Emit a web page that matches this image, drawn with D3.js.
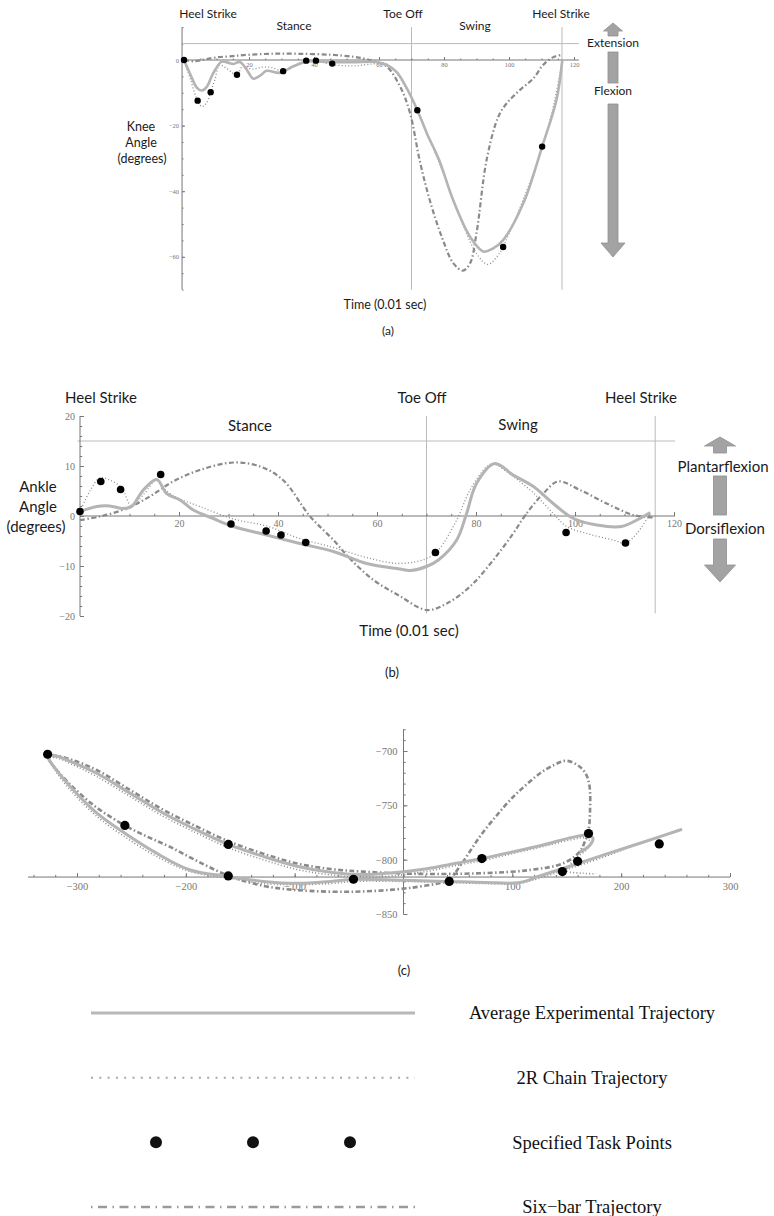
<!DOCTYPE html>
<html>
<head>
<meta charset="utf-8">
<script src="https://cdn.jsdelivr.net/npm/d3@7"></script>
<style>
body { margin: 0; background: #fff; }
svg { display: block; }
.lbl { font-family: Lato, "Open Sans", sans-serif; fill: #1a1a1a; }
.leg { font-family: "Liberation Serif", "DejaVu Serif", serif; fill: #111; }
.tick text { font-family: "Liberation Serif", "DejaVu Serif", serif; fill: #777; }
.tick line { stroke: #777; }
</style>
</head>
<body>
<svg id="fig" width="774" height="1216"></svg>
<script>
// time of the specified task points (0.01 sec)
var taskT = [0, 4.2, 8.2, 16.3, 30.5, 37.6, 40.6, 45.6, 71.8, 98.2, 110.2];

// (a) knee angle
var kneeTask = [0, -12.4, -9.8, -4.5, -3.4, -0.2, -0.2, -1.1, -15.3, -57.0, -26.4];
var kneeExpT = [0, 2, 4, 5.5, 7, 9, 11.6, 13.5, 15.2, 17.2, 19.2, 21.3, 23.4, 25.4, 29.5, 33.5, 37.7, 45, 52, 59.3, 62.5, 65.4, 68.5, 71.8, 74.7, 78.5, 82.8, 88, 92.1, 95, 98.2, 104.4, 110.2, 114.6, 116.4];
var kneeExpV = [0, -4.5, -8.5, -9.3, -8.2, -4, -0.5, -0.8, -1.2, -0.6, -2.8, -5.7, -4.8, -3.3, -3.9, -2, -0.5, -0.6, -0.7, -0.6, -1.6, -3.6, -8.5, -15.3, -22.3, -30.5, -42.7, -53.9, -58.4, -57.5, -54.9, -43.7, -26.4, -12.2, 0];
var kneeTwoRT = [0, 2, 4, 5.5, 7, 8.2, 9.5, 11, 13, 16.3, 18, 21, 24, 27, 30.5, 34, 37.6, 40.6, 45.6, 52, 58, 62, 65, 68, 71.8, 75, 80, 85, 90, 93.5, 97, 100, 105, 110.2, 114, 116.4];
var kneeTwoRV = [0, -6, -12, -14.2, -13, -9.8, -6, -1.5, -2.5, -4.5, -2, -2.8, -2.2, -2.3, -3.4, -2, -0.3, -0.3, -1.4, -1.8, -1.2, -1.0, -3.5, -8, -15.3, -23, -35, -48, -59, -62.3, -59, -53, -41, -27, -12.5, 0];
var kneeSixT = [0, 3, 6, 10, 15, 20, 27, 35, 45, 52, 56, 59.3, 62.4, 66.5, 69.5, 72.6, 75.7, 79.3, 82.9, 85.8, 88, 90, 93.1, 96.7, 99.3, 103.4, 107.5, 110.5, 113.5, 116.4];
var kneeSixV = [0, -0.4, 0.1, 0.8, 1.2, 1.6, 1.9, 1.9, 1.6, 1.0, 0.3, -0.6, -2, -8.1, -16, -31, -43, -53.9, -62, -64.2, -62, -52.8, -30.5, -17.3, -13.2, -9.1, -5.6, -1.5, 0.8, 1.6];

// (b) ankle angle
var ankleTask = [0.9, 6.9, 5.3, 8.3, -1.6, -3.0, -3.8, -5.3, -7.3, -3.3, -5.4];
var ankleExpT = [0, 3.4, 6, 8.7, 10.4, 12.8, 15.5, 17.5, 20.2, 22.9, 26.9, 31, 37.7, 44.4, 51.2, 57.9, 64.6, 66.7, 70, 72.4, 76.1, 78.1, 80.1, 83.8, 87.5, 91.6, 95.6, 99.7, 104.4, 109.4, 112.5, 115.2];
var ankleExpV = [0.9, 1.9, 2, 1.5, 1.9, 5.2, 7.3, 4.5, 3.2, 1.2, -0.5, -2.1, -3.8, -5.5, -7.1, -9.5, -10.6, -10.9, -10.1, -8.8, -4.8, 0.5, 6.5, 10.5, 8.2, 5.9, 2.5, -0.5, -1.8, -2.1, -0.8, 0.7];
var ankleTwoRT = [0, 2, 4, 6, 8.5, 10.4, 13, 15.5, 17.5, 20, 24.2, 31, 37.7, 44.4, 51.2, 57.9, 64.6, 70, 72.4, 76.1, 78.8, 82.2, 83.5, 87.5, 91.6, 95.6, 98.3, 102.4, 107.7, 110.2, 112.5, 115.2];
var ankleTwoRV = [0.9, 5, 7.6, 7.2, 5.5, 2, 4.5, 7.2, 5, 3.5, 1.9, -0.6, -2, -4.5, -6.3, -8.3, -9.5, -8.5, -6.8, -0.8, 5.2, 9.9, 10.4, 7.9, 4.6, 0.5, -2.1, -3.5, -4.8, -5.4, -3.5, 0.5];
var ankleSixT = [0, 4, 9.4, 14.1, 18.8, 24.2, 31, 36.4, 41, 46.5, 51.2, 54.5, 59.3, 64.6, 70, 74.1, 78.8, 83.5, 87.5, 90.2, 93.6, 96.6, 101, 106.4, 111.8, 115.8];
var ankleSixV = [-0.8, -0.1, 1.5, 3.9, 6.9, 9.2, 10.7, 9.9, 7.2, -0.1, -4.8, -8.5, -12.8, -16, -18.8, -17.5, -14.1, -8.8, -3.5, 0.5, 4.5, 6.9, 5.2, 2.5, 0.2, -0.3];

// (c) ankle path
var pathTaskX = [-327, -256, -161, -161, -46, 42, 72, 146, 160, 170, 235];
var pathTaskY = [-703, -768.5, -786, -815, -818, -820, -799, -811, -801.5, -776, -785.5];
var pathExpX = [256, 220, 180, 150, 125, 107, 75, 40, 0, -46, -67, -98, -129, -160, -196, -227, -256, -282, -306, -320, -327, -322, -305, -282, -251, -221, -190, -161, -129, -98, -67, -37, -10, 20, 50, 72, 100, 130, 155, 168, 174, 171, 162];
var pathExpY = [-772, -784, -797, -807, -815, -821, -821, -820, -819, -818, -820, -821.7, -820, -815.6, -809.5, -794, -775.7, -757, -733, -716, -705, -704, -710, -720.5, -739, -757, -772.7, -786, -797, -806, -811.6, -813.7, -812, -808.5, -803, -799, -793, -786, -779.5, -777.5, -780, -787, -793];
var pathTwoRX = [250, 215, 180, 150, 125, 105, 75, 40, 0, -46, -67, -98, -129, -160, -196, -227, -256, -282, -306, -320, -326, -320, -303, -282, -251, -221, -190, -161, -129, -98, -67, -37, -10, 20, 50, 72, 100, 130, 155, 167, 172, 168, 158, 150, 165, 177];
var pathTwoRY = [-774, -786, -799, -809, -817, -822, -822, -821, -820, -820, -822, -823, -822, -817, -811, -797, -779, -760, -736, -718, -707, -706, -713, -723.5, -742, -760, -775.5, -789, -800, -809, -814, -816, -815, -811, -805, -801, -794.5, -787.5, -781.5, -780, -784, -791, -799, -810, -812.5, -813];
var pathSixX = [42, 56, 70, 85, 101, 114, 125.5, 138, 150, 162, 168, 171, 171.4, 170, 166, 162, 147, 116, 70, 9, -37, -67, -98, -129, -161, -190, -221, -251, -282, -305, -320, -326, -323, -306, -282, -256, -235, -215, -190, -161, -129, -98, -46, 6, 42];
var pathSixY = [-820, -800, -779, -760, -742, -730, -720.5, -713, -709, -714.5, -722, -733, -754.6, -773, -785, -792.6, -803.3, -809.5, -812.5, -813, -811, -808.6, -803.5, -794.5, -783, -769.5, -754, -736, -717.5, -708, -704.5, -706, -712, -731, -752, -768.5, -779, -788, -801, -814.7, -824, -828, -829.5, -826, -820];

var legendLabels = ["Average Experimental Trajectory", "2R Chain Trajectory", "Specified Task Points", "Six\u2212bar Trajectory"];

var svg = d3.select("#fig");

var styles = {
  exp: {stroke: "#b4b4b4", width: 3, dash: null},
  twoR: {stroke: "#8c8c8c", width: 1.3, dash: "1,2.2"},
  six: {stroke: "#8a8a8a", width: 2.2, dash: "5,2.5,1.5,2.5"}
};

create_panel_a();
create_panel_b();
create_panel_c();
create_legend();

function add_label(g, x, y, txt, size) {
  g.append("text")
    .attr("class", "lbl")
    .attr("x", x)
    .attr("y", y)
    .attr("dy", "0.35em")
    .attr("text-anchor", "middle")
    .style("font-size", size + "px")
    .text(txt);
}

function draw_series(g, pts, x, y, st) {
  var line = d3.line()
    .x(d => x(d[0]))
    .y(d => y(d[1]))
    .curve(d3.curveCatmullRom.alpha(0.5));
  g.append("path")
    .datum(pts)
    .attr("fill", "none")
    .attr("stroke", st.stroke)
    .attr("stroke-width", st.width)
    .attr("stroke-dasharray", st.dash)
    .attr("stroke-linejoin", "round")
    .attr("d", line);
}

function draw_dots(g, pts, x, y, r) {
  g.selectAll("circle.task")
    .data(pts)
    .join("circle")
      .attr("class", "task")
      .attr("cx", d => x(d[0]))
      .attr("cy", d => y(d[1]))
      .attr("r", r)
      .attr("fill", "#000");
}

function draw_axes(g, x, y, o) {
  // minor ticks first, then major with labels
  g.append("g")
    .attr("transform", "translate(0," + y(o.xAt) + ")")
    .call(d3.axisBottom(x).tickValues(o.xMinor).tickSizeInner(-o.minor).tickSizeOuter(0).tickFormat(""))
    .call(a => a.select(".domain").remove());
  g.append("g")
    .attr("transform", "translate(0," + y(o.xAt) + ")")
    .call(d3.axisBottom(x).tickValues(o.xMajor).tickSizeInner(-o.major).tickSizeOuter(0).tickPadding(o.pad))
    .call(a => a.select(".domain").remove())
    .call(a => a.selectAll("text").style("font-size", o.font + "px"));
  g.append("g")
    .attr("transform", "translate(" + x(o.yAt) + ",0)")
    .call(d3.axisLeft(y).tickValues(o.yMinor).tickSizeInner(-o.minor).tickSizeOuter(0).tickFormat(""))
    .call(a => a.select(".domain").remove());
  g.append("g")
    .attr("transform", "translate(" + x(o.yAt) + ",0)")
    .call(d3.axisLeft(y).tickValues(o.yMajor).tickSizeInner(-o.major).tickSizeOuter(0).tickPadding(o.pad + 1))
    .call(a => a.select(".domain").remove())
    .call(a => a.selectAll("text").style("font-size", o.font + "px"));

  g.append("line")
    .attr("x1", x(o.xExt[0])).attr("x2", x(o.xExt[1]))
    .attr("y1", y(o.xAt)).attr("y2", y(o.xAt))
    .attr("stroke", "#777");
  g.append("line")
    .attr("x1", x(o.yAt)).attr("x2", x(o.yAt))
    .attr("y1", y(o.yExt[0])).attr("y2", y(o.yExt[1]))
    .attr("stroke", "#777");
}

function draw_arrows(g, cx, a) {
  var f = "#a3a3a3", s = "#8f8f8f";
  g.append("path")
    .attr("d", "M" + cx + "," + a.upTip + " L" + (cx + a.head) + "," + a.upBase + " L" + (cx + a.shaft) + "," + a.upBase +
      " L" + (cx + a.shaft) + "," + a.upEnd + " L" + (cx - a.shaft) + "," + a.upEnd + " L" + (cx - a.shaft) + "," + a.upBase +
      " L" + (cx - a.head) + "," + a.upBase + "Z")
    .attr("fill", f).attr("stroke", s).attr("stroke-width", 0.8);
  g.append("rect")
    .attr("x", cx - a.shaft).attr("y", a.bar[0])
    .attr("width", 2 * a.shaft).attr("height", a.bar[1] - a.bar[0])
    .attr("fill", f).attr("stroke", s).attr("stroke-width", 0.8);
  g.append("path")
    .attr("d", "M" + (cx - a.shaft) + "," + a.dnStart + " L" + (cx + a.shaft) + "," + a.dnStart + " L" + (cx + a.shaft) + "," + a.dnBase +
      " L" + (cx + a.head2) + "," + a.dnBase + " L" + cx + "," + a.dnTip + " L" + (cx - a.head2) + "," + a.dnBase +
      " L" + (cx - a.shaft) + "," + a.dnBase + "Z")
    .attr("fill", f).attr("stroke", s).attr("stroke-width", 0.8);
}

function create_panel_a() {
  var g = svg.append("g");
  var x = d3.scaleLinear().domain([0, 120]).range([184, 574]);
  var y = d3.scaleLinear().domain([-70, 10]).range([289.6, 27.2]);

  // phase lines
  g.append("line").attr("x1", x(0)).attr("x2", x(121.5)).attr("y1", y(5)).attr("y2", y(5)).attr("stroke", "#bbb");
  [70, 116.3].forEach(function (t) {
    g.append("line").attr("x1", x(t)).attr("x2", x(t)).attr("y1", y(10)).attr("y2", y(-70)).attr("stroke", "#bbb");
  });

  draw_axes(g, x, y, {
    xAt: 0, yAt: -0.6, xExt: [-0.6, 121.5], yExt: [-70, 10],
    xMajor: [20, 40, 60, 80, 100, 120], xMinor: d3.range(5, 121, 5),
    yMajor: [-60, -40, -20, 0], yMinor: d3.range(-70, 11, 5),
    major: 3, minor: 1.5, pad: 2, font: 6.5
  });

  draw_series(g, d3.zip(kneeSixT, kneeSixV), x, y, styles.six);
  draw_series(g, d3.zip(kneeTwoRT, kneeTwoRV), x, y, styles.twoR);
  draw_series(g, d3.zip(kneeExpT, kneeExpV), x, y, {stroke: "#b4b4b4", width: 2.6, dash: null});
  draw_dots(g, d3.zip(taskT, kneeTask), x, y, 3.2);

  add_label(g, 208, 14, "Heel Strike", 12);
  add_label(g, 294, 26, "Stance", 12);
  add_label(g, 403, 14, "Toe Off", 12);
  add_label(g, 475, 26, "Swing", 12);
  add_label(g, 561, 14, "Heel Strike", 12);
  add_label(g, 141, 127, "Knee", 12.5);
  add_label(g, 141, 143, "Angle", 12.5);
  add_label(g, 142, 159, "(degrees)", 12.5);
  add_label(g, 385, 305, "Time (0.01 sec)", 12.5);
  add_label(g, 388, 331, "(a)", 12);
  add_label(g, 613, 43, "Extension", 12);
  add_label(g, 613, 91, "Flexion", 12);

  draw_arrows(g, 613, {upTip: 23, upBase: 31, upEnd: 36, head: 9.5, shaft: 5,
    bar: [52, 83], dnStart: 104, dnBase: 243, dnTip: 257, head2: 12});
}

function create_panel_b() {
  var g = svg.append("g");
  var x = d3.scaleLinear().domain([0, 120]).range([80, 674]);
  var y = d3.scaleLinear().domain([-20, 20]).range([616, 416]);

  g.append("line").attr("x1", x(-0.5)).attr("x2", x(120.2)).attr("y1", y(15)).attr("y2", y(15)).attr("stroke", "#bbb");
  [70, 116.2].forEach(function (t) {
    g.append("line").attr("x1", x(t)).attr("x2", x(t)).attr("y1", y(20)).attr("y2", y(-19.5)).attr("stroke", "#bbb");
  });

  draw_axes(g, x, y, {
    xAt: 0, yAt: 0, xExt: [0, 120.2], yExt: [-20, 20],
    xMajor: [20, 40, 60, 80, 100, 120], xMinor: d3.range(5, 121, 5),
    yMajor: [-20, -10, 0, 10, 20], yMinor: d3.range(-20, 21, 2),
    major: 4, minor: 2.2, pad: 4, font: 10
  });

  draw_series(g, d3.zip(ankleSixT, ankleSixV), x, y, styles.six);
  draw_series(g, d3.zip(ankleTwoRT, ankleTwoRV), x, y, styles.twoR);
  draw_series(g, d3.zip(ankleExpT, ankleExpV), x, y, styles.exp);
  draw_dots(g, d3.zip(taskT, ankleTask), x, y, 3.8);

  add_label(g, 101, 398, "Heel Strike", 15);
  add_label(g, 250, 426, "Stance", 15);
  add_label(g, 422, 398, "Toe Off", 15);
  add_label(g, 518, 425, "Swing", 15);
  add_label(g, 641, 398, "Heel Strike", 15);
  add_label(g, 38, 487, "Ankle", 15);
  add_label(g, 38, 507, "Angle", 15);
  add_label(g, 36, 527, "(degrees)", 15);
  add_label(g, 409, 631, "Time (0.01 sec)", 15);
  add_label(g, 392, 672, "(b)", 13);
  add_label(g, 723, 467, "Plantarflexion", 15);
  add_label(g, 725, 529, "Dorsiflexion", 15);

  draw_arrows(g, 720, {upTip: 437, upBase: 446, upEnd: 453, head: 15.5, shaft: 6.5,
    bar: [476, 515], dnStart: 539, dnBase: 565, dnTip: 582, head2: 15.5});
}

function create_panel_c() {
  var g = svg.append("g");
  var x = d3.scaleLinear().domain([-300, 300]).range([77, 730]);
  var y = d3.scaleLinear().domain([-850, -700]).range([914, 751]);

  draw_axes(g, x, y, {
    xAt: -816, yAt: 0, xExt: [-345, 300], yExt: [-850, -680],
    xMajor: [-300, -200, -100, 100, 200, 300], xMinor: d3.range(-340, 301, 20),
    yMajor: [-850, -800, -750, -700], yMinor: d3.range(-850, -679, 10),
    major: 4, minor: 2.2, pad: 5, font: 10.5
  });

  var wide = function (st, w) { return {stroke: st.stroke, width: w, dash: st.dash}; };
  draw_series(g, d3.zip(pathSixX, pathSixY), x, y, wide(styles.six, 2.6));
  draw_series(g, d3.zip(pathTwoRX, pathTwoRY), x, y, wide(styles.twoR, 1.6));
  draw_series(g, d3.zip(pathExpX, pathExpY), x, y, wide(styles.exp, 3));
  draw_dots(g, d3.zip(pathTaskX, pathTaskY), x, y, 4.6);

  add_label(g, 404, 970, "(c)", 13);
}

function create_legend() {
  var g = svg.append("g");
  var rows = d3.scaleLinear().domain([0, 3]).range([1013, 1207]);
  var lx = d3.scaleLinear().domain([0, 1]).range([91, 415]);

  var legStyles = [
    {stroke: "#b8b8b8", width: 3, dash: null, cap: "butt"},
    {stroke: "#a8a8a8", width: 2, dash: "2,6.3", cap: "butt"},
    null,
    {stroke: "#9a9a9a", width: 2.5, dash: "1.5,5.5,9,5.5", cap: "butt"}
  ];

  legStyles.forEach(function (st, i) {
    if (st == null) {
      g.selectAll("circle.leg")
        .data([156, 253, 350])
        .join("circle")
          .attr("class", "leg")
          .attr("cx", d => d)
          .attr("cy", rows(i))
          .attr("r", 6)
          .attr("fill", "#000");
      return;
    }
    g.append("line")
      .attr("x1", lx(0)).attr("x2", lx(1))
      .attr("y1", rows(i)).attr("y2", rows(i))
      .attr("stroke", st.stroke)
      .attr("stroke-width", st.width)
      .attr("stroke-dasharray", st.dash)
      .attr("stroke-linecap", st.cap);
  });

  g.selectAll("text.leg")
    .data(legendLabels)
    .join("text")
      .attr("class", "leg")
      .attr("x", 592)
      .attr("y", (d, i) => rows(i))
      .attr("dy", "0.35em")
      .attr("text-anchor", "middle")
      .style("font-size", "18.5px")
      .text(d => d);
}
</script>
</body>
</html>
